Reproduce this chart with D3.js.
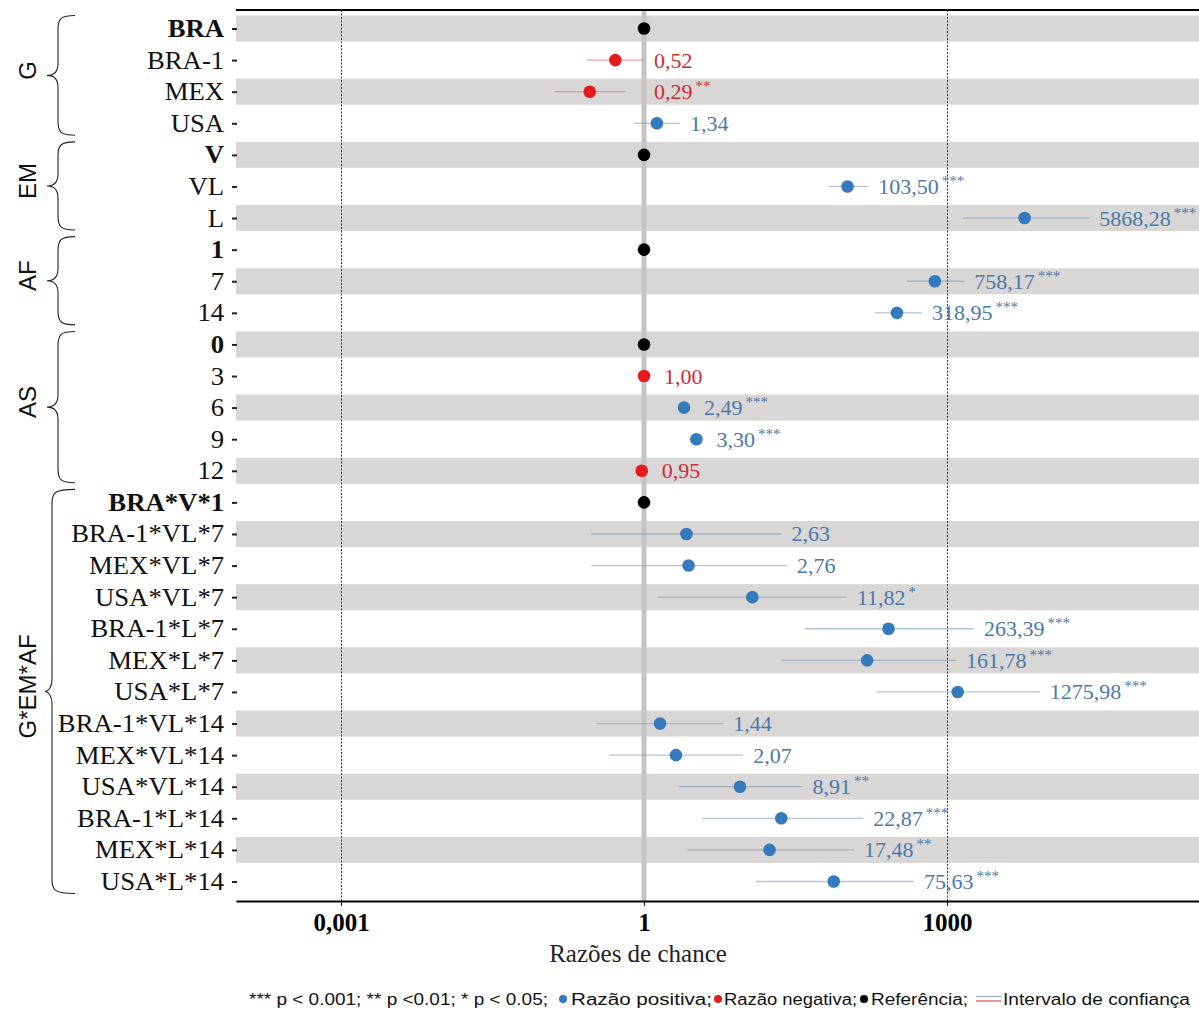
<!DOCTYPE html>
<html>
<head>
<meta charset="utf-8">
<script src="https://cdn.jsdelivr.net/npm/d3@7"></script>
<style>
  html, body { margin: 0; padding: 0; background: #fff; }
  svg { display: block; }
</style>
</head>
<body>
<svg id="chart" width="1199" height="1010"></svg>
<script>
// ---------- DATA ----------
const categories = ["BRA","BRA-1","MEX","USA","V","VL","L","1","7","14","0","3","6","9","12",
  "BRA*V*1","BRA-1*VL*7","MEX*VL*7","USA*VL*7","BRA-1*L*7","MEX*L*7","USA*L*7",
  "BRA-1*VL*14","MEX*VL*14","USA*VL*14","BRA-1*L*14","MEX*L*14","USA*L*14"];
const oddsRatio = [1, 0.52, 0.29, 1.34, 1, 103.50, 5868.28, 1, 758.17, 318.95, 1, 1.00, 2.49, 3.30, 0.95,
  1, 2.63, 2.76, 11.82, 263.39, 161.78, 1275.98, 1.44, 2.07, 8.91, 22.87, 17.48, 75.63];
const ciLower = [null, 0.27, 0.13, 0.80, null, 68, 1440, null, 400, 193, null, 0.93, 2.3, 3.05, 0.88,
  null, 0.30, 0.30, 1.35, 39, 23, 200, 0.34, 0.46, 2.2, 3.75, 2.7, 12.8];
const ciUpper = [null, 0.98, 0.66, 2.27, null, 166, 25600, null, 1480, 565, null, 1.07, 2.7, 3.57, 1.02,
  null, 23, 26, 102, 1850, 1230, 8300, 6.1, 9.6, 37, 148, 120, 470];
const significance = ["", "", "**", "", "", "***", "***", "", "***", "***", "", "", "***", "***", "",
  "", "", "", "*", "***", "***", "***", "", "", "**", "***", "**", "***"];
const kind = ["ref","neg","neg","pos","ref","pos","pos","ref","pos","pos","ref","neg","pos","pos","neg",
  "ref","pos","pos","pos","pos","pos","pos","pos","pos","pos","pos","pos","pos"];
const groupNames = ["G", "EM", "AF", "AS", "G*EM*AF"];
const groupFirst = ["BRA", "V", "1", "0", "BRA*V*1"];
const groupLast = ["USA", "L", "14", "12", "USA*L*14"];
const xTickValues = [0.001, 1, 1000];
const xTickLabels = ["0,001", "1", "1000"];
const xTitle = "Razões de chance";
const legendNote = "*** p < 0.001; ** p <0.01; * p < 0.05;";
const legendItems = ["Razão positiva;", "Razão negativa;", "Referência;", "Intervalo de confiança"];

// ---------- LAYOUT ----------
const serif = "'Liberation Serif','Times New Roman',serif";
const sans = "'Liberation Sans',Arial,sans-serif";
const plotLeft = 236, plotRight = 1199, plotTop = 10, plotBottom = 901;
const colors = {
  pos: "#357abd", neg: "#e41a1c", ref: "#000000",
  posText: "#4a79aa", negText: "#cf2a36",
  posCI: "#7f9cc0", negCI: "#de6a6a",
  band: "#d9d6d6"
};

const svg = d3.select("#chart");
const x = d3.scaleLog().domain([Math.pow(10, -4.04), Math.pow(10, 5.495)]).range([plotLeft, plotRight]);
const y = d3.scalePoint().domain(categories).range([28.5, 881.5]);
const bandH = 26;

const rows = categories.map((c, i) => ({
  cat: c, or: oddsRatio[i], lo: ciLower[i], hi: ciUpper[i], sig: significance[i], kind: kind[i], i
}));

// bands
svg.append("g").selectAll("rect").data(rows.filter(d => d.i % 2 === 0)).join("rect")
  .attr("x", plotLeft).attr("width", plotRight - plotLeft)
  .attr("y", d => y(d.cat) - bandH / 2).attr("height", bandH)
  .attr("fill", colors.band);

// reference line at 1
svg.append("line").attr("x1", x(1)).attr("x2", x(1)).attr("y1", plotTop).attr("y2", plotBottom)
  .attr("stroke", "#c4c4c4").attr("stroke-width", 5);

// dashed lines
svg.append("g").selectAll("line").data([0.001, 1000]).join("line")
  .attr("x1", d => Math.round(x(d)) + 0.5).attr("x2", d => Math.round(x(d)) + 0.5)
  .attr("y1", plotTop).attr("y2", plotBottom)
  .attr("stroke", "#333").attr("stroke-width", 1).attr("stroke-dasharray", "2,1.5");

// top line
svg.append("line").attr("x1", plotLeft).attr("x2", plotRight).attr("y1", plotTop).attr("y2", plotTop)
  .attr("stroke", "#000").attr("stroke-width", 2);

// CI lines
svg.append("g").selectAll("line").data(rows.filter(d => d.lo != null)).join("line")
  .attr("x1", d => x(d.lo)).attr("x2", d => x(d.hi))
  .attr("y1", d => y(d.cat)).attr("y2", d => y(d.cat))
  .attr("stroke", d => d.kind === "neg" ? colors.negCI : colors.posCI)
  .attr("stroke-opacity", 0.6).attr("stroke-width", 1.3);

// points
svg.append("g").selectAll("circle").data(rows).join("circle")
  .attr("cx", d => x(d.or)).attr("cy", d => y(d.cat)).attr("r", 6.3)
  .attr("fill", d => colors[d.kind]);

// value labels
const fmt = v => d3.format(".2f")(v).replace(".", ",");
const lab = svg.append("g").selectAll("text").data(rows.filter(d => d.kind !== "ref")).join("text")
  .attr("x", d => {
    let m = x(d.or) + 10;
    if (d.hi != null) m = Math.max(m, x(d.hi));
    if (d.kind === "neg") m = Math.max(m, x(1));
    return m + 10;
  })
  .attr("y", d => y(d.cat) + 7.5)
  .attr("font-family", serif).attr("font-size", 22)
  .attr("fill", d => d.kind === "neg" ? colors.negText : colors.posText);
lab.append("tspan").text(d => fmt(d.or));
lab.filter(d => d.sig).append("tspan").attr("dx", 3).attr("dy", -8).attr("font-size", 15)
  .text(d => d.sig);

// y axis
const yAxis = d3.axisLeft(y).tickSize(5).tickPadding(7);
const gy = svg.append("g").attr("transform", `translate(${plotLeft + 1},0)`).call(yAxis);
gy.select(".domain").remove();
gy.selectAll(".tick line").attr("stroke", "#222").attr("stroke-width", 2);
gy.selectAll(".tick text")
  .attr("font-family", serif).attr("font-size", 25).attr("fill", "#111")
  .attr("transform", "scale(1.07,1)")
  .attr("font-weight", (d, i) => kind[i] === "ref" ? "bold" : "normal");

// x axis
const xAxis = d3.axisBottom(x).tickValues(xTickValues)
  .tickFormat((d, i) => xTickLabels[i]).tickSize(5).tickSizeOuter(0).tickPadding(7);
const gx = svg.append("g").attr("transform", `translate(0,${plotBottom})`).call(xAxis);
gx.select(".domain").attr("stroke", "#000").attr("stroke-width", 2);
gx.selectAll(".tick line").attr("stroke", "#000").attr("stroke-width", 1);
gx.selectAll(".tick text").attr("font-family", serif).attr("font-size", 25)
  .attr("font-weight", "bold").attr("fill", "#000");

svg.append("text").attr("x", x(1) - 6).attr("y", 962).attr("text-anchor", "middle")
  .attr("font-family", serif).attr("font-size", 25).attr("fill", "#222").text(xTitle);

// group braces
function bracePath(y1, y2, tipX, spineX, armX) {
  const ym = (y1 + y2) / 2;
  return `M${armX},${y1} C${spineX + 3},${y1} ${spineX},${y1 + 3} ${spineX},${y1 + 14}` +
    ` L${spineX},${ym - 12} C${spineX},${ym - 4} ${spineX - 4},${ym} ${tipX},${ym}` +
    ` C${spineX - 4},${ym} ${spineX},${ym + 4} ${spineX},${ym + 12}` +
    ` L${spineX},${y2 - 14} C${spineX},${y2 - 3} ${spineX + 3},${y2} ${armX},${y2}`;
}
groupNames.forEach((g, i) => {
  const y1 = y(groupFirst[i]) - 13, y2 = y(groupLast[i]) + 12;
  const big = i === 4;
  svg.append("path").attr("d", bracePath(y1, y2, big ? 45 : 47, big ? 52 : 58, 75))
    .attr("fill", "none").attr("stroke", "#222").attr("stroke-width", 1.1);
  const ym = (y1 + y2) / 2 - 5;
  svg.append("text").attr("transform", `translate(36,${ym}) rotate(-90)`)
    .attr("text-anchor", "middle").attr("font-family", sans).attr("font-size", 24)
    .attr("fill", "#111").text(g);
});

// legend
const ly = 1005;
const lg = svg.append("g").attr("font-family", sans).attr("font-size", 16).attr("fill", "#111");
function ltext(txt, x0, x1) {
  lg.append("text").attr("x", x0).attr("y", ly).attr("textLength", x1 - x0)
    .attr("lengthAdjust", "spacingAndGlyphs").text(txt);
}
ltext(legendNote, 249, 548);
lg.append("circle").attr("cx", 563).attr("cy", ly - 6).attr("r", 4).attr("fill", colors.pos);
ltext(legendItems[0], 571, 712);
lg.append("circle").attr("cx", 718).attr("cy", ly - 6).attr("r", 4).attr("fill", colors.neg);
ltext(legendItems[1], 724, 857);
lg.append("circle").attr("cx", 864).attr("cy", ly - 6).attr("r", 4).attr("fill", colors.ref);
ltext(legendItems[2], 871, 968);
lg.append("line").attr("x1", 976).attr("x2", 1001).attr("y1", ly - 8.5).attr("y2", ly - 8.5)
  .attr("stroke", "#8fb0cf").attr("stroke-width", 1.2);
lg.append("line").attr("x1", 976).attr("x2", 1001).attr("y1", ly - 4).attr("y2", ly - 4)
  .attr("stroke", "#d05050").attr("stroke-width", 1.2);
ltext(legendItems[3], 1003, 1190);
</script>
</body>
</html>
